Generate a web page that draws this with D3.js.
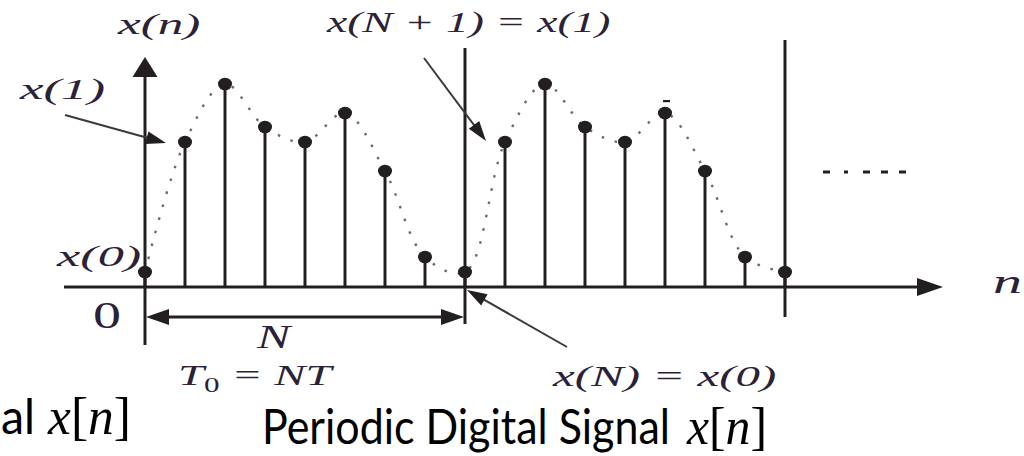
<!DOCTYPE html>
<html>
<head>
<meta charset="utf-8">
<script src="https://cdn.jsdelivr.net/npm/d3@7"></script>
<style>
  html, body { margin: 0; padding: 0; background: #fff; }
  svg { display: block; }
</style>
</head>
<body>
<svg id="chart" width="1024" height="456"></svg>
<script>
// Sample index n over two periods and the sampled amplitudes x(n)
const sampleN = [0, 1, 2, 3, 4, 5, 6, 7, 8, 9, 10, 11, 12, 13, 14, 15, 16];
const sampleValues = [1.5, 14.5, 20.3, 16.0, 14.5, 17.4, 11.6, 3.0,
                      1.5, 14.5, 20.3, 16.0, 14.5, 17.4, 11.6, 3.0, 1.5];
const periodN = 8;

// Annotation texts
const yAxisLabel = "x(n)";
const xAxisLabel = "n";
const originLabel = "0";
const firstLabel = "x(1)";
const zeroLabel = "x(0)";
const nextLabel = "x(N + 1) = x(1)";
const endLabel = "x(N) = x(0)";
const periodLabel = "N";
const captionLeft = "al";
const captionMain = "Periodic Digital Signal";

const ink = "#231f20";
const serif = "'Liberation Serif', 'Times New Roman', serif";
const sans = "Lato, 'Open Sans', sans-serif";

const svg = d3.select("#chart");

const x = d3.scaleLinear().domain([0, 16]).range([145, 785]);
const y = d3.scaleLinear().domain([0, 23]).range([287, 57]);

// Filled triangular arrow head
function arrowHead(g, tipX, tipY, dirX, dirY, len, half, fill) {
  const m = Math.hypot(dirX, dirY);
  const ux = dirX / m, uy = dirY / m;
  const bx = tipX - ux * len, by = tipY - uy * len;
  const px = -uy, py = ux;
  g.append("path")
    .attr("d", `M${tipX},${tipY}L${bx + px * half},${by + py * half}L${bx - px * half},${by - py * half}Z`)
    .attr("fill", fill);
}

// Text stretched horizontally to a given width
function wideText(g, parts, tx, ty, width, opts) {
  const t = g.append("text")
    .attr("font-family", opts.family || serif)
    .attr("font-size", opts.size)
    .attr("font-style", opts.italic === false ? "normal" : "italic")
    .attr("fill", opts.fill || ink);
  parts.forEach(p => {
    const s = t.append("tspan").text(p.text);
    if (p.style) s.attr("font-style", p.style);
    if (p.size) s.attr("font-size", p.size);
    if (p.dy) s.attr("dy", p.dy);
  });
  const w = t.node().getBBox().width;
  const k = width ? width / w : 1;
  t.attr("transform", `translate(${tx},${ty}) scale(${k},1)`);
  return t;
}

const g = svg.append("g");

// Dotted envelope of the continuous signal
const envelope = d3.line()
  .x((d, i) => x(sampleN[i]))
  .y(d => y(d))
  .curve(d3.curveCatmullRom.alpha(0.5));
g.append("path")
  .attr("d", envelope(sampleValues))
  .attr("fill", "none")
  .attr("stroke", "#6a6a6a")
  .attr("stroke-width", 2.4)
  .attr("stroke-dasharray", "2.5 11");

// Horizontal axis with arrow
const axisLeft = 64, axisTip = 943;
g.append("line")
  .attr("x1", axisLeft).attr("x2", axisTip - 20)
  .attr("y1", y(0)).attr("y2", y(0))
  .attr("stroke", ink).attr("stroke-width", 3);
arrowHead(g, axisTip, y(0), 1, 0, 26, 9, ink);

// Vertical axis with arrow
g.append("line")
  .attr("x1", x(0)).attr("x2", x(0))
  .attr("y1", y(-5.8)).attr("y2", y(22))
  .attr("stroke", ink).attr("stroke-width", 3);
arrowHead(g, x(0), y(23), 0, -1, 20, 12.5, ink);

// Period boundary lines at n = N and n = 2N
g.append("line")
  .attr("x1", x(periodN)).attr("x2", x(periodN))
  .attr("y1", y(-3.7)).attr("y2", y(23.9))
  .attr("stroke", ink).attr("stroke-width", 3);
g.append("line")
  .attr("x1", x(2 * periodN)).attr("x2", x(2 * periodN))
  .attr("y1", y(-3.0)).attr("y2", y(24.7))
  .attr("stroke", ink).attr("stroke-width", 3);

// Stems
g.selectAll("line.stem")
  .data(sampleValues)
  .join("line")
  .attr("class", "stem")
  .attr("x1", (d, i) => x(sampleN[i])).attr("x2", (d, i) => x(sampleN[i]))
  .attr("y1", y(0)).attr("y2", d => y(d))
  .attr("stroke", ink).attr("stroke-width", 3);

// Sample dots
g.selectAll("ellipse.dot")
  .data(sampleValues)
  .join("ellipse")
  .attr("class", "dot")
  .attr("cx", (d, i) => x(sampleN[i]))
  .attr("cy", d => y(d))
  .attr("rx", 7).attr("ry", 6.3)
  .attr("fill", ink);

// Small mark above x(13)
g.append("rect")
  .attr("x", x(13) - 2).attr("y", y(sampleValues[13]) - 13)
  .attr("width", 7).attr("height", 2.2)
  .attr("fill", ink);

// Continuation dashes
const dashes = [[823, 830], [844, 848], [863, 870], [881, 888], [899, 906]];
g.selectAll("rect.cont")
  .data(dashes)
  .join("rect")
  .attr("class", "cont")
  .attr("x", d => d[0]).attr("width", d => d[1] - d[0])
  .attr("y", 170.5).attr("height", 3)
  .attr("fill", ink);

// Period span N with double arrow
const spanY = 317;
g.append("line")
  .attr("x1", x(0) + 15).attr("x2", x(periodN) - 15)
  .attr("y1", spanY).attr("y2", spanY)
  .attr("stroke", ink).attr("stroke-width", 3);
arrowHead(g, x(0) + 1, spanY, -1, 0, 23, 8, ink);
arrowHead(g, x(periodN) - 1, spanY, 1, 0, 23, 8, ink);

// Pointer arrows
const pointer = "#3a3a3a";
function pointerArrow(x0, y0, x1, y1) {
  const dx = x1 - x0, dy = y1 - y0, m = Math.hypot(dx, dy);
  g.append("line")
    .attr("x1", x0).attr("y1", y0)
    .attr("x2", x1 - dx / m * 14).attr("y2", y1 - dy / m * 14)
    .attr("stroke", pointer).attr("stroke-width", 2);
  arrowHead(g, x1, y1, dx, dy, 20, 6.5, ink);
}
pointerArrow(65, 115, 166, 143);
pointerArrow(424, 58, 486, 141);
pointerArrow(567, 347, 467, 290);

// Labels
const labelOpts = { size: 30, fill: "#2b2238" };
wideText(g, [{ text: yAxisLabel }], 118, 34, 84, labelOpts);
wideText(g, [{ text: nextLabel }], 327, 32, 285, labelOpts);
wideText(g, [{ text: firstLabel }], 20, 99, 87, labelOpts);
wideText(g, [{ text: zeroLabel }], 57, 266, 86, labelOpts);
wideText(g, [{ text: originLabel }], 93, 328, 28, { size: 38, italic: false, fill: "#2b2238" });
wideText(g, [{ text: xAxisLabel }], 993, 293, 29, { size: 34, fill: "#2b2238" });
wideText(g, [{ text: periodLabel }], 257, 348, 38, { size: 34, fill: "#2b2238" });
wideText(g, [
  { text: "T" },
  { text: "0", size: 20, dy: 7, style: "normal" },
  { text: " = NT", dy: -7 }
], 178, 385, 157, labelOpts);
wideText(g, [{ text: endLabel }], 553, 386, 225, labelOpts);

// Captions: plain text followed by the math symbol x[n]
function caption(tx, ty, lead, leadWidth, mathX, mathWidth) {
  wideText(g, [{ text: lead }], tx, ty, leadWidth,
    { size: 48, family: sans, italic: false, fill: "#000" });
  wideText(g, [
    { text: "x" },
    { text: "[", style: "normal" },
    { text: "n" },
    { text: "]", style: "normal" }
  ], mathX, ty, mathWidth, { size: 52, fill: "#000" });
}
caption(1, 434, captionLeft, 34, 48, 84);
caption(262, 444, captionMain, 408, 687, 81);
</script>
</body>
</html>
